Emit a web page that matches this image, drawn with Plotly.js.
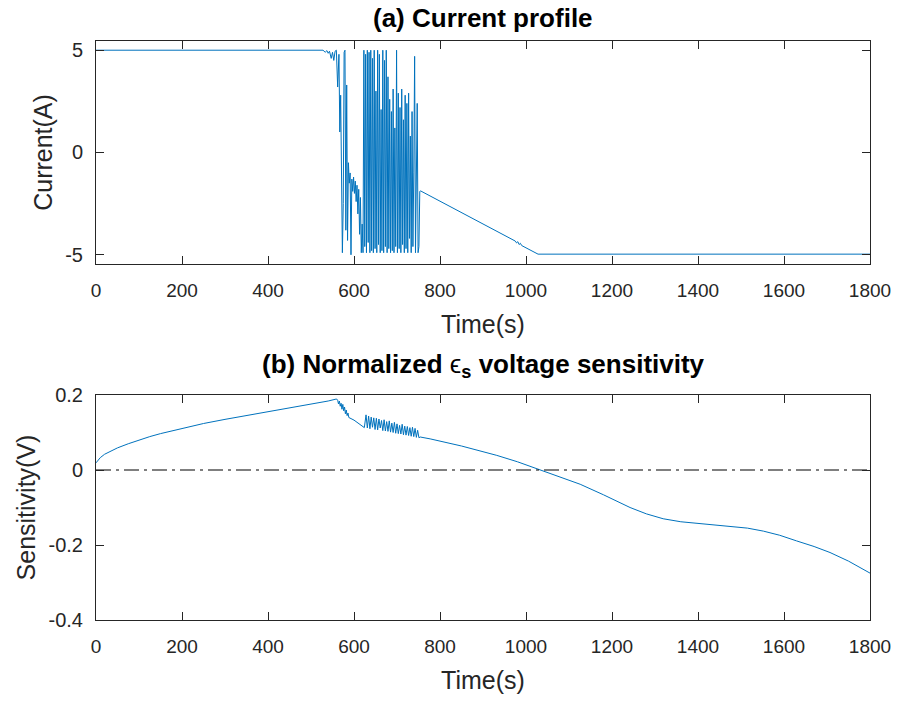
<!DOCTYPE html>
<html>
<head>
<meta charset="utf-8">
<script src="https://cdn.plot.ly/plotly-3.0.1.min.js"></script>
<style>html,body{margin:0;padding:0;background:#fff;}#chart{width:902px;height:702px;}</style>
</head>
<body>
<div id="chart"></div>
<script>
// ---- Data ----
const timeCurrent = [0, 500, 520, 528, 533, 537, 540, 543, 547, 550, 553, 556, 559,
  562, 565, 567, 569, 571, 573, 575, 577, 579, 581, 583, 585, 587, 589, 591, 593,
  595, 597, 599, 601, 603, 605, 607, 609, 611, 613, 615, 617, 619, 621,
  623, 625, 627, 629, 631, 633, 635, 637, 639, 641, 643, 645, 647, 649, 651, 653,
  655, 657, 659, 661, 663, 665, 667, 669, 671, 673, 675, 677,
  679, 681, 683, 685, 687, 689, 691, 693, 695, 697, 699, 701, 703, 705, 707, 709,
  711, 713, 715, 717, 719, 721, 723, 725, 727, 729, 731, 733, 735, 737, 739, 741,
  743, 745, 747, 749, 751, 753,
  755, 975, 978, 981, 984, 987, 990, 1028, 1800];
const currentA = [5.0, 5.0, 4.97, 5.0, 4.9, 4.98, 4.85, 4.95, 4.6, 4.9, 4.5, 4.95, 5.0,
  3.2, 4.8, 1.0, 2.8, -1.0, -4.9, -2.5, 4.9, 5.0, -3.8, 3.3, -4.3, -0.5, -1.5, -1.0, -5.0,
  -1.3, -1.9, -1.2, -2.0, -1.4, -2.4, -1.6, -3.0, -1.8, -4.0, -2.2, -4.9, -3.5, -4.9,
  5.0, -4.6, 4.8, -4.9, 5.0, -4.4, 4.9, -4.9, 5.0, -4.8, 4.6, -4.9, 5.0, -4.7, 3.0, -4.9,
  5.0, -4.5, 4.8, -4.9, 2.1, -4.8, 5.0, -4.9, 4.5, -4.6, 5.0, -4.9,
  3.7, -4.7, 2.6, -4.9, 2.0, -4.8, 3.1, -4.9, 1.2, -4.6, 5.0, -4.9, 2.9, -4.7, 2.2, -4.9,
  3.1, -4.5, 1.6, -4.9, 2.8, -4.7, 2.4, -4.9, 2.9, -4.2, 0.8, -4.9, 2.0, -4.6, -1.0, 4.7,
  -4.9, -2.2, 2.4, -4.9, -4.6, -1.9,
  -1.88, -4.33, -4.42, -4.36, -4.5, -4.44, -4.55, -4.97, -4.97];

const timeSens = [0, 5, 10, 20, 30, 50, 75, 100, 125, 150, 200, 250, 300, 350, 400, 450, 500, 540, 558,
  560, 562, 564, 566, 568, 570, 572, 574, 576, 578, 580, 582, 584, 586, 588, 600, 612, 624,
  628, 631, 634, 637, 640, 643, 646, 649, 652, 655, 658, 661, 664, 667, 670, 673, 676, 679,
  682, 685, 688, 691, 694, 697, 700, 703, 706, 709, 712, 715, 718, 721, 724, 727, 730, 733,
  736, 739, 742, 745, 748, 751, 754,
  760, 777, 850, 932, 980, 1033, 1080, 1126, 1180, 1242, 1280, 1319, 1360, 1397, 1440, 1474,
  1515, 1552, 1590, 1629, 1670, 1707, 1750, 1800];
const sensitivityV = [0.019, 0.027, 0.033, 0.042, 0.048, 0.059, 0.070, 0.080, 0.089, 0.097, 0.111, 0.124, 0.135, 0.145, 0.156, 0.166, 0.176, 0.184, 0.189,
  0.189, 0.186, 0.176, 0.184, 0.170, 0.178, 0.162, 0.175, 0.158, 0.168, 0.150, 0.160, 0.145, 0.152, 0.140, 0.133, 0.124, 0.113,
  0.147, 0.112, 0.144, 0.110, 0.141, 0.114, 0.139, 0.108, 0.138, 0.107, 0.136, 0.112, 0.132, 0.105, 0.134, 0.104, 0.129, 0.103,
  0.131, 0.101, 0.125, 0.100, 0.127, 0.098, 0.123, 0.097, 0.119, 0.096, 0.122, 0.094, 0.117, 0.093, 0.116, 0.092, 0.113, 0.090,
  0.114, 0.089, 0.111, 0.087, 0.106, 0.086, 0.088,
  0.087, 0.083, 0.064, 0.039, 0.022, 0.000, -0.018, -0.038, -0.066, -0.100, -0.117, -0.130, -0.138, -0.142, -0.146, -0.149,
  -0.155, -0.163, -0.174, -0.189, -0.204, -0.220, -0.243, -0.275];

const zeroLineX = [0, 1800];
const zeroLineY = [0, 0];

const timeTicks = [0, 200, 400, 600, 800, 1000, 1200, 1400, 1600, 1800];
const currentTicks = [-5, 0, 5];
const currentTickText = ['-5', '0', '5'];
const sensTicks = [-0.4, -0.2, 0, 0.2];
const sensTickText = ['-0.4', '-0.2', '0', '0.2'];

const titleA = '<b>(a) Current profile</b>';
const titleB = '<b>(b) Normalized </b>\u03f5<sub><b>s</b></sub><b> voltage sensitivity</b>';
const xLabel = 'Time(s)';
const yLabelA = 'Current(A)';
const yLabelB = 'Sensitivity(V)';

// ---- Styling ----
const FONT = 'Liberation Sans, Arial, Helvetica, sans-serif';
const AX = '#262626';
const BLUE = '#0072BD';

function xAxis(anchor) {
  return {
    anchor: anchor, range: [0, 1800], tickvals: timeTicks, ticktext: timeTicks.map(String),
    ticks: 'inside', ticklen: 8, tickcolor: AX, tickwidth: 1,
    showline: true, linecolor: AX, linewidth: 1, mirror: 'ticks',
    showgrid: false, zeroline: false,
    tickfont: {family: FONT, size: 19, color: AX}, ticklabelstandoff: 9,
    title: {text: xLabel, font: {family: FONT, size: 25, color: AX}, standoff: 15}
  };
}
function yAxis(anchor, domain, range, vals, text, label) {
  return {
    anchor: anchor, domain: domain, range: range, tickvals: vals, ticktext: text,
    ticks: 'inside', ticklen: 8, tickcolor: AX, tickwidth: 1,
    showline: true, linecolor: AX, linewidth: 1, mirror: 'ticks',
    showgrid: false, zeroline: false,
    tickfont: {family: FONT, size: 20, color: AX}, ticklabelstandoff: 8,
    title: {text: label, font: {family: FONT, size: 25, color: AX}, standoff: 5}
  };
}

const traces = [
  {x: timeCurrent, y: currentA, xaxis: 'x', yaxis: 'y', type: 'scatter', mode: 'lines',
   line: {color: BLUE, width: 1}, hoverinfo: 'skip'},
  {x: timeSens, y: sensitivityV, xaxis: 'x2', yaxis: 'y2', type: 'scatter', mode: 'lines',
   line: {color: BLUE, width: 1}, hoverinfo: 'skip'},
  {x: zeroLineX, y: zeroLineY, xaxis: 'x2', yaxis: 'y2', type: 'scatter', mode: 'lines',
   line: {color: '#000000', width: 1.2, dash: '15px,5px,3px,5px'}, hoverinfo: 'skip'}
];

const layout = {
  width: 902, height: 702,
  margin: {l: 96, r: 32, t: 41, b: 82},
  paper_bgcolor: '#ffffff', plot_bgcolor: '#ffffff',
  showlegend: false,
  font: {family: FONT, color: AX},
  xaxis: xAxis('y'),
  yaxis: yAxis('x', [0.6149, 1], [-5.45, 5.45], currentTicks, currentTickText, yLabelA),
  xaxis2: xAxis('y2'),
  yaxis2: yAxis('x2', [0, 0.3886], [-0.4, 0.2], sensTicks, sensTickText, yLabelB),
  annotations: [
    {text: titleA, xref: 'paper', yref: 'paper', x: 0.5, y: 1.0397, xanchor: 'center', yanchor: 'middle',
     showarrow: false, font: {family: FONT, size: 26, color: '#000000'}},
    {text: titleB, xref: 'paper', yref: 'paper', x: 0.5, y: 0.4404, xanchor: 'center', yanchor: 'middle',
     showarrow: false, font: {family: FONT, size: 26, color: '#000000'}}
  ]
};

Plotly.newPlot('chart', traces, layout, {displayModeBar: false, staticPlot: true});
</script>
</body>
</html>
